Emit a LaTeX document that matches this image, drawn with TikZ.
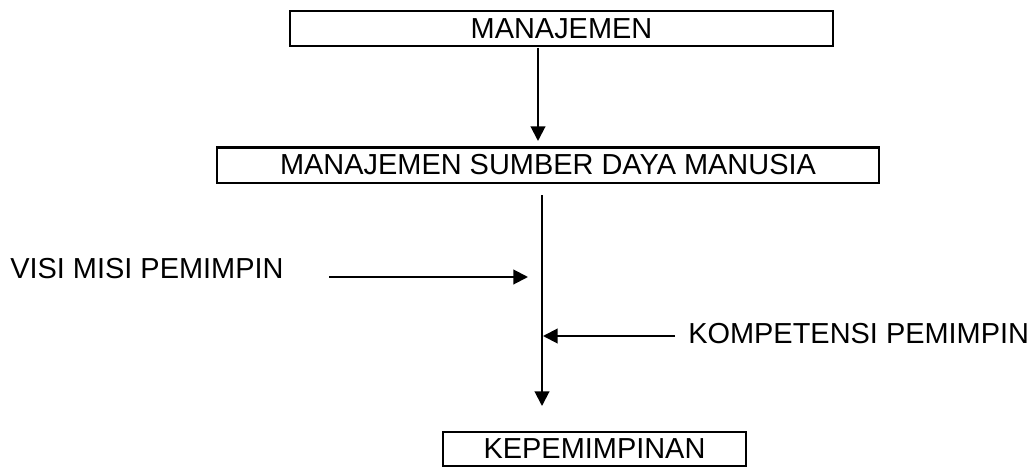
\documentclass[tikz,border=0pt]{standalone}
\usepackage{fontspec}
\setmainfont{Liberation Sans}
\usetikzlibrary{arrows.meta}
\begin{document}
\begin{tikzpicture}[x=0.75pt,y=-0.75pt,
  every node/.style={font=\fontsize{21.7pt}{26pt}\selectfont, inner sep=0pt},
  boxnode/.style={draw, line width=1.5pt, align=center},
  conn/.style={line width=1.5pt},
  arr/.style={conn, -{Triangle[length=11pt,width=11pt]}}]
\useasboundingbox (0,0) rectangle (1036,467);
\node[boxnode, minimum width=407.25pt, minimum height=25.9pt] (m) at (561.5,28.3) {MANAJEMEN};
\node[boxnode, minimum width=496.5pt, minimum height=26.25pt] (msdm) at (548,165) {MANAJEMEN SUMBER DAYA MANUSIA};
\node[boxnode, minimum width=227.25pt, minimum height=25.5pt] (kep) at (594.5,448.7) {KEPEMIMPINAN};
\node[anchor=west] (visi) at (10,269) {VISI MISI PEMIMPIN};
\node[anchor=west] (komp) at (688,334) {KOMPETENSI PEMIMPIN};
\coordinate (a1s) at (538,48);
\coordinate (a1e) at (538,141);
\coordinate (vs) at (542,195);
\coordinate (ve) at (542,406);
\coordinate (v1s) at (329,277);
\coordinate (v1e) at (528,277);
\coordinate (k1s) at (675,336);
\coordinate (k1e) at (543,336);
\draw[arr] (a1s) -- (a1e);
\draw[arr] (vs) -- (ve);
\draw[arr] (v1s) -- (v1e);
\draw[arr] (k1s) -- (k1e);
\end{tikzpicture}
\end{document}
